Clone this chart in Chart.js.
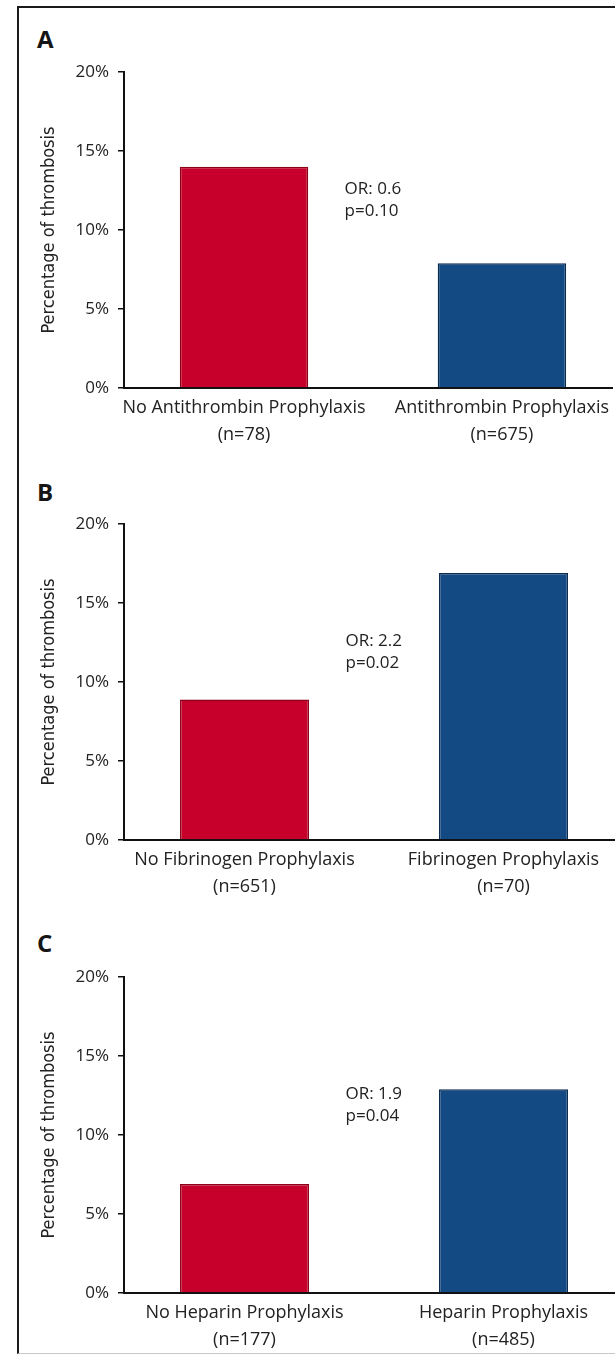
<!DOCTYPE html>
<html>
<head>
<meta charset="utf-8">
<script src="https://cdn.jsdelivr.net/npm/chart.js@4.4.1/dist/chart.umd.min.js"></script>
<style>
  html, body { margin: 0; padding: 0; background: #fff; width: 615px; height: 1355px; overflow: hidden; }
  #frame { position: absolute; left: 17px; top: 6px; width: 720px; height: 1345px;
           border-left: 2px solid #1a1a1a; border-top: 2px solid #1a1a1a; border-bottom: 1px solid #c8c8c8; }
  canvas.panel { position: absolute; left: 0; }
  .tag { position: absolute; left: 37px; font: bold 24px "Open Sans", sans-serif; color: #151515; line-height: 24px; }
</style>
</head>
<body>
<div id="frame"></div>
<div class="tag" style="top:27px">A</div>
<div class="tag" style="top:480px">B</div>
<div class="tag" style="top:931px">C</div>
<canvas id="panelA" class="panel" width="615" height="452" style="top:0px"></canvas>
<canvas id="panelB" class="panel" width="615" height="452" style="top:452px"></canvas>
<canvas id="panelC" class="panel" width="615" height="452" style="top:905px"></canvas>
<script>
// Thrombosis rate by prophylaxis group (percent of patients)
const categoriesA = [['No Antithrombin Prophylaxis', '(n=78)'], ['Antithrombin Prophylaxis', '(n=675)']];
const categoriesB = [['No Fibrinogen Prophylaxis', '(n=651)'], ['Fibrinogen Prophylaxis', '(n=70)']];
const categoriesC = [['No Heparin Prophylaxis', '(n=177)'], ['Heparin Prophylaxis', '(n=485)']];
const thrombosisA = [14.0, 7.9];
const thrombosisB = [8.9, 16.9];
const thrombosisC = [6.9, 12.9];
const oddsRatios = ['OR: 0.6', 'OR: 2.2', 'OR: 1.9'];
const pValues = ['p=0.10', 'p=0.02', 'p=0.04'];
const yTickValues = [0, 5, 10, 15, 20];

const TEXT = '#222';
const AXIS = '#111';
const labelFont = '"Open Sans", "DejaVu Sans", sans-serif';

// Writes the odds ratio and p-value between the two bars
const statsLabel = {
  id: 'statsLabel',
  afterDatasetsDraw(chart, args, opts) {
    const { ctx, scales: { x, y } } = chart;
    ctx.save();
    ctx.font = '17px ' + labelFont;
    ctx.fillStyle = TEXT;
    ctx.textAlign = 'left';
    ctx.textBaseline = 'middle';
    const px = x.getPixelForValue(opts.at);
    const py = y.getPixelForValue(opts.level);
    opts.lines.forEach((t, i) => ctx.fillText(t, px, py + i * 22));
    ctx.restore();
  }
};

function drawPanel(id, labels, values, orText, pText) {
  new Chart(document.getElementById(id), {
    type: 'bar',
    data: {
      datasets: [{
        data: values.map((v, i) => ({ x: i, y: v })),
        backgroundColor: ['#c6002a', '#134a84'],
        borderColor: ['#8c0019', '#0a2b50'],
        borderWidth: 1.5,
        borderSkipped: 'bottom',
        categoryPercentage: 1,
        barPercentage: 0.498
      }]
    },
    options: {
      responsive: false,
      animation: false,
      devicePixelRatio: 1,
      layout: { padding: { top: 72, right: 0, bottom: 0, left: 0 } },
      plugins: {
        legend: { display: false },
        tooltip: { enabled: false },
        statsLabel: { lines: [orText, pText], at: 0.39, level: 12.6 }
      },
      scales: {
        x: {
          type: 'linear',
          min: -0.4653,
          max: 1.4305,
          offset: false,
          afterBuildTicks: s => { s.ticks = labels.map((_, i) => ({ value: i })); },
          afterFit: s => { s.height = 64; },
          grid: { display: false, drawTicks: false, offset: false },
          border: { display: true, color: AXIS, width: 2 },
          ticks: {
            callback: v => labels[v],
            color: TEXT,
            font: { family: labelFont, size: 18, lineHeight: 1.5 },
            padding: 6,
            maxRotation: 0,
            autoSkip: false
          }
        },
        y: {
          min: 0,
          max: 20,
          afterBuildTicks: s => { s.ticks = yTickValues.map(v => ({ value: v })); },
          afterFit: s => { s.width = 124; },
          grid: { display: true, drawOnChartArea: false, drawTicks: true, tickLength: 6, color: AXIS, lineWidth: 1.5 },
          border: { display: true, color: AXIS, width: 2 },
          ticks: {
            callback: v => v + '%',
            color: TEXT,
            font: { family: labelFont, size: 17 },
            padding: 9
          },
          title: {
            display: true,
            text: 'Percentage of thrombosis',
            color: TEXT,
            font: { family: '"DejaVu Sans Condensed", "Liberation Sans Narrow", sans-serif', size: 18 },
            padding: { top: 39, bottom: 0 }
          }
        }
      }
    },
    plugins: [statsLabel]
  });
}

drawPanel('panelA', categoriesA, thrombosisA, oddsRatios[0], pValues[0]);
drawPanel('panelB', categoriesB, thrombosisB, oddsRatios[1], pValues[1]);
drawPanel('panelC', categoriesC, thrombosisC, oddsRatios[2], pValues[2]);
</script>
</body>
</html>
